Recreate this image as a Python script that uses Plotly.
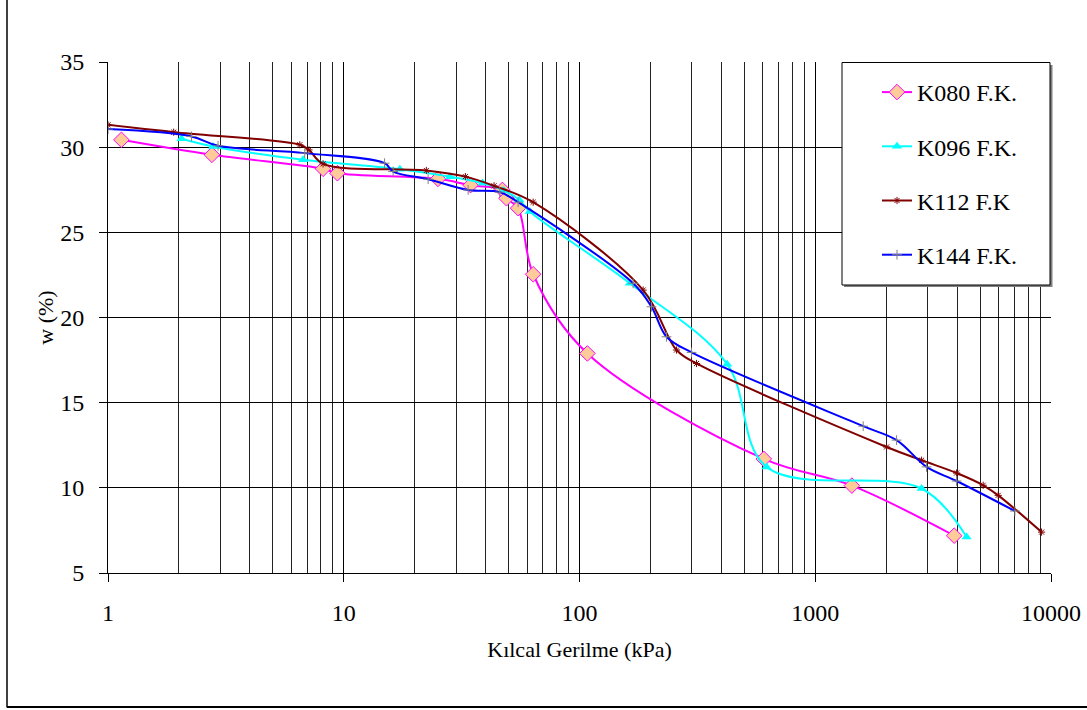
import plotly.graph_objects as go

# ---------------- data ----------------
k080_x = [1.14, 2.76, 8.17, 9.40, 25.1, 34.5, 47.1, 49.0, 54.9, 63.6, 108, 605, 1430, 3885]
k080_y = [30.43, 29.55, 28.73, 28.47, 28.14, 27.77, 27.49, 27.00, 26.42, 22.54, 17.89, 11.70, 10.13, 7.19]

k096_x = [2.05, 2.79, 6.72, 17.3, 28.2, 38.8, 47.7, 55.6, 61.5, 163.5, 423, 621.5, 2825, 4385]
k096_y = [30.49, 30.04, 29.26, 28.71, 28.27, 27.89, 27.45, 26.90, 26.22, 22.01, 17.26, 11.23, 9.96, 7.11]

k112_x = [1.0, 1.90, 6.51, 7.12, 8.17, 22.4, 32.8, 43.4, 63.6, 186.2, 258, 313.6, 2007, 2825, 3977, 5155, 5970, 9120]
k112_y = [31.31, 30.88, 30.14, 29.84, 29.02, 28.63, 28.27, 27.73, 26.77, 21.61, 18.09, 17.30, 12.40, 11.62, 10.87, 10.15, 9.56, 7.40]

k144_x = [1.0, 2.26, 2.93, 6.83, 14.9, 16.2, 22.8, 33.7, 45.9, 54.9, 168.8, 202, 233.9, 298.7, 1597, 2213, 2966, 3977, 7028]
k144_y = [31.06, 30.63, 30.08, 29.65, 29.06, 28.57, 28.12, 27.49, 27.36, 26.77, 22.01, 20.63, 18.87, 17.95, 13.62, 12.80, 11.23, 10.40, 8.64]

names = ["K080 F.K.", "K096 F.K.", "K112 F.K", "K144 F.K."]
x_major = [1, 10, 100, 1000, 10000]
x_minor = [m * 10 ** d for d in range(4) for m in range(2, 10)]
y_ticks = [5, 10, 15, 20, 25, 30, 35]

FONT = "Liberation Serif"
FS = 22
TICK_FS = 24
LEG_FS = 24

fig = go.Figure()
fig.add_trace(go.Scatter(
    x=k080_x, y=k080_y, name=names[0], mode="lines+markers",
    line=dict(color="#FF00FF", width=2, shape="spline", smoothing=1),
    marker=dict(symbol="diamond", size=12, color="#FFCC99", line=dict(color="#FF00FF", width=1)),
    legendgroup="a"))
fig.add_trace(go.Scatter(
    x=k096_x, y=k096_y, name=names[1], mode="lines+markers",
    line=dict(color="#00FFFF", width=2, shape="spline", smoothing=1),
    marker=dict(symbol="triangle-up", size=9, color="#00FFFF"),
    legendgroup="b"))
fig.add_trace(go.Scatter(
    x=k112_x, y=k112_y, name=names[2], mode="lines+markers",
    line=dict(color="#800000", width=2, shape="spline", smoothing=1),
    marker=dict(symbol="asterisk-open", size=6, color="#800000", line=dict(color="#800000", width=1)),
    legendgroup="c"))
fig.add_trace(go.Scatter(
    x=k144_x, y=k144_y, name=names[3], mode="lines+markers",
    line=dict(color="#0000FF", width=2, shape="spline", smoothing=1),
    marker=dict(symbol="cross-thin-open", size=7, color="#808080", line=dict(color="#808080", width=1)),
    legendgroup="d"))

# plot-area geometry in pixels (for paper-coordinate shapes)
L, R, T, B = 108, 36, 62, 137
W, H = 1087, 710
pw, ph = W - L - R, H - T - B


def px_x(p):
    return (p - L) / pw


def px_y(p):
    return (H - B - p) / ph


shapes = [
    # outer chart frame (left and bottom edges visible)
    dict(type="line", xref="paper", yref="paper", x0=px_x(7), x1=px_x(7), y0=px_y(-5), y1=px_y(707.5),
         line=dict(color="black", width=1.5), layer="above"),
    dict(type="line", xref="paper", yref="paper", x0=px_x(7), x1=px_x(1095), y0=px_y(707), y1=px_y(707),
         line=dict(color="black", width=2), layer="above"),
    # legend shadow + box
    dict(type="rect", xref="paper", yref="paper", x0=px_x(844), x1=px_x(1052.5), y0=px_y(287), y1=px_y(65),
         line=dict(width=0), fillcolor="#808080", layer="above"),
    dict(type="rect", xref="paper", yref="paper", x0=px_x(842), x1=px_x(1050), y0=px_y(285), y1=px_y(62.5),
         line=dict(color="black", width=1), fillcolor="white", layer="above"),
]

fig.update_layout(
    width=W, height=H,
    margin=dict(l=L, r=R, t=T, b=B, autoexpand=False),
    paper_bgcolor="white", plot_bgcolor="white",
    font=dict(family=FONT, size=FS, color="black"),
    shapes=shapes,
    showlegend=True,
    legend=dict(
        x=px_x(877), xanchor="left", y=px_y(70), yanchor="top",
        bgcolor="rgba(0,0,0,0)", borderwidth=0,
        font=dict(family=FONT, size=LEG_FS, color="black"),
        tracegroupgap=20, itemwidth=30,
    ),
    xaxis=dict(
        type="log", range=[0, 4], tickmode="array", tickvals=x_major,
        ticktext=[str(v) for v in x_major],
        tickfont=dict(family=FONT, size=TICK_FS),
        showgrid=True, gridcolor="black", gridwidth=1,
        minor=dict(tickmode="array", tickvals=x_minor, showgrid=True, gridcolor="#222222", gridwidth=1, ticks=""),
        showline=True, linecolor="black", linewidth=1,
        ticks="outside", ticklen=8, tickcolor="black", tickwidth=1,
        ticklabelstandoff=10,
        zeroline=False, automargin=False,
        title=dict(text="Kılcal Gerilme (kPa)", standoff=16, font=dict(family=FONT, size=FS)),
    ),
    yaxis=dict(
        range=[5, 35], tickmode="array", tickvals=y_ticks,
        tickfont=dict(family=FONT, size=TICK_FS),
        showgrid=True, gridcolor="black", gridwidth=1,
        showline=True, linecolor="black", linewidth=1,
        ticks="outside", ticklen=8, tickcolor="black", tickwidth=1,
        ticklabelstandoff=10,
        zeroline=False, automargin=False,
        title=dict(text="w (%)", standoff=0, font=dict(family=FONT, size=FS)),
    ),
)

fig.write_html("out.html")
